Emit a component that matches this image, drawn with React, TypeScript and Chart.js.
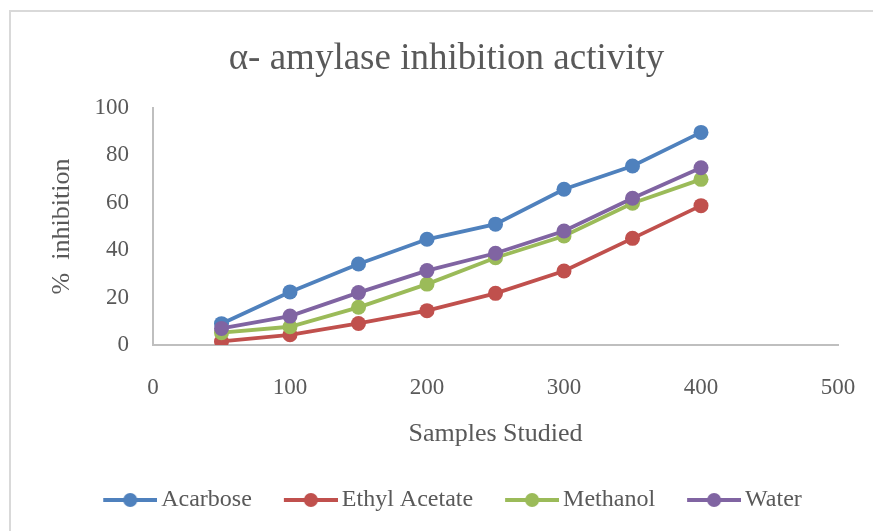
import React, { useEffect, useRef } from "react";
import { Chart, registerables } from "chart.js";

Chart.register(...registerables);

const chartTitle = "α- amylase inhibition activity";
const xAxisTitle = "Samples Studied";
const yAxisTitle = "%  inhibition";

const sampleValues = [50, 100, 150, 200, 250, 300, 350, 400];
const acarbose = [9.0, 22.4, 34.2, 44.6, 51.0, 65.7, 75.5, 89.7];
const ethylAcetate = [1.5, 4.3, 9.1, 14.5, 21.8, 31.2, 45.0, 58.8];
const methanol = [5.2, 7.7, 15.9, 25.7, 36.8, 46.0, 59.8, 69.9];
const water = [7.0, 12.2, 22.1, 31.4, 38.7, 48.1, 61.9, 74.8];

const seriesNames = ["Acarbose", "Ethyl Acetate", "Methanol", "Water"];
const seriesColors = ["#4F81BD", "#C0504D", "#9BBB59", "#8064A2"];

const xMin = 0;
const xMax = 500;
const xStep = 100;
const yMin = 0;
const yMax = 100;
const yStep = 20;

const FONT = "'Liberation Serif', 'Times New Roman', serif";
const TEXT = "#595959";

function makeLegendIcon(color: string): HTMLCanvasElement {
  const c = document.createElement("canvas");
  c.width = 62;
  c.height = 18;
  const ctx = c.getContext("2d")!;
  ctx.strokeStyle = color;
  ctx.lineWidth = 4;
  ctx.beginPath();
  ctx.moveTo(8, 9);
  ctx.lineTo(62, 9);
  ctx.stroke();
  ctx.fillStyle = color;
  ctx.beginPath();
  ctx.arc(35, 9, 7, 0, Math.PI * 2);
  ctx.fill();
  return c;
}

const titleShift = {
  id: "titleShift",
  afterLayout(chart: any) {
    const t = chart.titleBlock;
    if (t) {
      t.left -= 6;
      t.right -= 6;
    }
  },
};

export default function App() {
  const canvasRef = useRef<HTMLCanvasElement | null>(null);

  useEffect(() => {
    if (!canvasRef.current) return;
    const seriesData = [acarbose, ethylAcetate, methanol, water];
    const icons = seriesColors.map((c) => makeLegendIcon(c));
    const datasets = seriesData.map((vals, i) => ({
      label: seriesNames[i],
      data: vals.map((v, j) => ({ x: sampleValues[j], y: v })),
      borderColor: seriesColors[i],
      backgroundColor: seriesColors[i],
      pointBackgroundColor: seriesColors[i],
      pointBorderColor: seriesColors[i],
      pointRadius: 7.5,
      pointBorderWidth: 0,
      borderWidth: 3.8,
      showLine: true,
      order: seriesData.length - 1 - i,
    }));

    const chart = new Chart(canvasRef.current, {
      type: "scatter",
      data: { datasets },
      plugins: [titleShift],
      options: {
        animation: false,
        responsive: false,
        maintainAspectRatio: false,
        layout: { padding: { left: 67, right: 35, top: 10, bottom: 9 } },
        plugins: {
          tooltip: { enabled: false },
          title: {
            display: true,
            text: chartTitle,
            color: TEXT,
            font: { family: FONT, size: 37, weight: "normal" },
            padding: { top: 27.3, bottom: 26.3 },
          },
          legend: {
            position: "bottom",
            labels: {
              usePointStyle: true,
              pointStyleWidth: 46,
              padding: 32,
              color: TEXT,
              font: { family: FONT, size: 24 },
              generateLabels: (ch: any) =>
                ch.data.datasets.map((ds: any, i: number) => ({
                  text: ds.label,
                  pointStyle: icons[i],
                  fillStyle: seriesColors[i],
                  strokeStyle: seriesColors[i],
                  lineWidth: 0,
                  hidden: false,
                  datasetIndex: i,
                  fontColor: TEXT,
                })),
            },
          },
        },
        scales: {
          x: {
            type: "linear",
            min: xMin,
            max: xMax,
            afterFit: (s: any) => {
              s.height = 111;
            },
            ticks: {
              stepSize: xStep,
              color: TEXT,
              padding: 3,
              font: { family: FONT, size: 23 },
            },
            grid: {
              display: true,
              drawOnChartArea: false,
              drawTicks: true,
              tickLength: 25.7,
              color: "rgba(0,0,0,0)",
              tickColor: "rgba(0,0,0,0)",
            },
            border: { display: true, color: "#bfbfbf", width: 2 },
            title: {
              display: true,
              text: xAxisTitle,
              color: TEXT,
              font: { family: FONT, size: 26 },
              padding: { top: 0, bottom: 5.9 },
            },
          },
          y: {
            type: "linear",
            min: yMin,
            max: yMax,
            afterFit: (s: any) => {
              s.width = 86;
            },
            ticks: {
              stepSize: yStep,
              color: TEXT,
              padding: 24,
              font: { family: FONT, size: 23 },
            },
            grid: { display: false, drawTicks: false },
            border: { display: true, color: "#bfbfbf", width: 2 },
            title: {
              display: true,
              text: yAxisTitle,
              color: TEXT,
              font: { family: FONT, size: 26 },
              padding: { top: -20.6, bottom: 0 },
            },
          },
        },
      },
    } as any);

    return () => chart.destroy();
  }, []);

  return (
    <div
      style={{
        position: "fixed",
        left: 0,
        top: 0,
        width: 873,
        height: 531,
        overflow: "hidden",
        background: "#ffffff",
      }}
    >
      <div
        style={{
          position: "absolute",
          left: 9,
          top: 10,
          width: 900,
          height: 600,
          border: "2px solid #d9d9d9",
          boxSizing: "border-box",
        }}
      />
      <canvas
        ref={canvasRef}
        width={873}
        height={531}
        style={{ position: "absolute", left: 0, top: 0, width: 873, height: 531 }}
      />
    </div>
  );
}
